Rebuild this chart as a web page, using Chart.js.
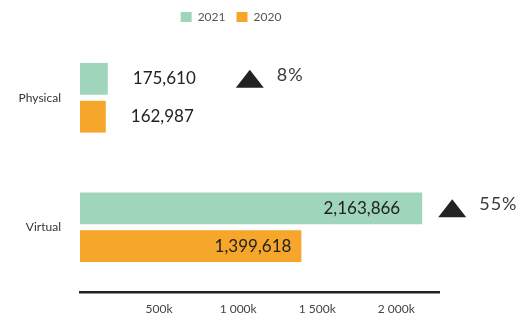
<!DOCTYPE html>
<html>
<head>
<meta charset="utf-8">
<script src="https://cdn.jsdelivr.net/npm/chart.js@4/dist/chart.umd.min.js"></script>
<style>
  html, body { margin: 0; padding: 0; background: #fff; }
  #wrap { width: 529px; height: 320px; position: relative; }
</style>
</head>
<body>
<div id="wrap"><canvas id="c"></canvas></div>
<script>
// Visits by channel, 2021 vs 2020
const categories = ['Physical', 'Virtual'];
const seriesNames = ['2021', '2020'];
const values2021 = [175610, 2163866];
const values2020 = [162987, 1399618];
const tickValues = [500000, 1000000, 1500000, 2000000];
const tickLabels = ['500k', '1 000k', '1 500k', '2 000k'];
const axisMax = 2270000;

const COLOR_2021 = '#9fd5ba';
const COLOR_2020 = '#f6a62a';
const FONT = 'Lato, "Open Sans", sans-serif';

// Value labels on the bars plus a year-on-year change marker per category
const annotate = {
  id: 'annotate',
  afterLayout(chart, args, opts) {
    // centre the legend over the plot block rather than the full canvas
    if (chart.legend) chart.legend.left = opts.legendLeft;
  },
  afterDatasetsDraw(chart, args, opts) {
    const ctx = chart.ctx;
    ctx.save();
    ctx.font = '17px ' + FONT;
    ctx.textBaseline = 'middle';
    const labelEnds = [];
    chart.data.datasets.forEach((ds, di) => {
      const meta = chart.getDatasetMeta(di);
      meta.data.forEach((bar, i) => {
        const txt = ds.data[i].toLocaleString('en-US');
        const w = ctx.measureText(txt).width;
        const barW = bar.x - bar.base;
        let end;
        ctx.fillStyle = '#222';
        if (w + opts.inset[di] + 10 < barW) {
          ctx.textAlign = 'right';
          ctx.fillText(txt, bar.x - opts.inset[di], bar.y);
          end = bar.x;
        } else {
          ctx.textAlign = 'left';
          ctx.fillText(txt, bar.x + opts.outside, bar.y);
          end = bar.x + opts.outside + w;
        }
        labelEnds[i] = Math.max(labelEnds[i] || 0, end);
      });
    });

    const cur = chart.data.datasets[0].data;
    const prev = chart.data.datasets[1].data;
    const meta0 = chart.getDatasetMeta(0);
    ctx.font = '18px ' + FONT;
    if ('letterSpacing' in ctx) ctx.letterSpacing = '1px';
    cur.forEach((v, i) => {
      const change = Math.round((v / prev[i] - 1) * 100);
      const bar = meta0.data[i];
      const left = labelEnds[i] + opts.arrowGap[i];
      const tw = 28, th = 18;
      const cy = bar.y;
      ctx.fillStyle = '#222';
      ctx.beginPath();
      if (change >= 0) {
        ctx.moveTo(left, cy + th / 2);
        ctx.lineTo(left + tw / 2, cy - th / 2);
        ctx.lineTo(left + tw, cy + th / 2);
      } else {
        ctx.moveTo(left, cy - th / 2);
        ctx.lineTo(left + tw / 2, cy + th / 2);
        ctx.lineTo(left + tw, cy - th / 2);
      }
      ctx.closePath();
      ctx.fill();
      ctx.fillStyle = '#3a3a3a';
      ctx.textAlign = 'left';
      ctx.fillText(Math.abs(change) + '%', left + tw + 13, cy - 4);
    });
    ctx.restore();
  }
};

function draw() {
  new Chart(document.getElementById('c'), {
    type: 'bar',
    data: {
      labels: categories,
      datasets: [
        { label: seriesNames[0], data: values2021, backgroundColor: COLOR_2021 },
        { label: seriesNames[1], data: values2020, backgroundColor: COLOR_2020 }
      ]
    },
    options: {
      indexAxis: 'y',
      responsive: true,
      maintainAspectRatio: false,
      animation: false,
      categoryPercentage: 0.585,
      barPercentage: 0.84,
      layout: { padding: { left: 8, right: 90, top: 0, bottom: 0 } },
      scales: {
        x: {
          min: 0,
          max: axisMax,
          grid: { display: false, drawTicks: false },
          border: { display: true, color: '#222', width: 2.5 },
          afterBuildTicks(scale) {
            scale.ticks = tickValues.map(v => ({ value: v }));
          },
          afterFit(scale) { scale.height = 28; },
          ticks: {
            padding: 10,
            color: '#444',
            font: { family: FONT, size: 12 },
            callback(value) {
              const k = tickValues.indexOf(value);
              return k >= 0 ? tickLabels[k] : '';
            }
          }
        },
        y: {
          grid: { display: false, drawTicks: false },
          border: { display: false },
          afterFit(scale) { scale.width = 72; },
          ticks: {
            padding: 19,
            color: '#333',
            font: { family: FONT, size: 12 }
          }
        }
      },
      plugins: {
        legend: {
          position: 'top',
          labels: {
            boxWidth: 11,
            boxHeight: 10,
            padding: 11,
            color: '#555',
            font: { family: FONT, size: 12 }
          }
        },
        tooltip: { enabled: false },
        annotate: { inset: [22, 10], outside: 25, arrowGap: [40, 16], legendLeft: 23 }
      }
    },
    plugins: [annotate]
  });
}

if (document.fonts && document.fonts.load) {
  Promise.all([
    document.fonts.load('17px Lato'),
    document.fonts.load('12px Lato')
  ]).then(draw, draw);
} else {
  draw();
}
</script>
</body>
</html>
